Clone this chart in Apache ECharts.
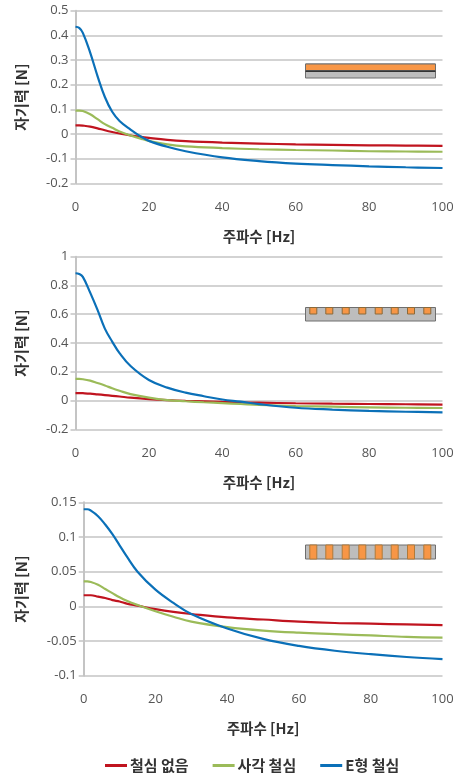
<!DOCTYPE html>
<html><head><meta charset="utf-8">
<script src="https://cdn.jsdelivr.net/npm/echarts@6/dist/echarts.min.js"></script>
<style>html,body{margin:0;padding:0;background:#fff}#c{width:460px;height:778px}</style>
</head><body><div id="c"></div>
<script>
const seriesNames = ['철심 없음','사각 철심','E형 철심'];
const xLabelTitle = '주파수 [Hz]';
const yLabelTitle = '자기력 [N]';

const freqA = [0,1,2,4,6,8,10,12,15,18,20,25,30,40,50,60,70,80,90,100];
const redA   = [.035,.035,.034,.03,.023,.015,.008,.002,-.006,-.012,-.016,-.024,-.029,-.035,-.039,-.042,-.044,-.046,-.047,-.048];
const greenA = [.095,.095,.093,.08,.06,.04,.025,.01,-.006,-.02,-.028,-.042,-.05,-.057,-.062,-.065,-.067,-.07,-.071,-.072];
const blueA  = [.435,.43,.41,.33,.235,.15,.09,.053,.018,-.012,-.028,-.052,-.07,-.095,-.11,-.12,-.126,-.131,-.135,-.138];

const freqB = [0,1,2,4,6,8,10,12,15,20,25,30,35,40,45,50,60,70,80,90,100];
const redB   = [.052,.052,.051,.048,.043,.038,.033,.028,.02,.01,.003,-.002,-.006,-.01,-.013,-.015,-.019,-.022,-.024,-.026,-.028];
const greenB = [.15,.15,.148,.138,.122,.105,.085,.068,.045,.02,.003,-.005,-.012,-.018,-.024,-.03,-.038,-.043,-.047,-.05,-.052];
const blueB  = [.885,.88,.86,.75,.63,.5,.41,.33,.24,.143,.09,.055,.03,.007,-.008,-.025,-.05,-.063,-.072,-.078,-.082];

const freqC = [0,1,2,4,6,8,10,12,15,20,25,30,40,50,60,70,80,90,100];
const redC   = [.016,.016,.016,.014,.012,.009,.007,.004,.001,-.004,-.008,-.011,-.016,-.019,-.022,-.024,-.025,-.026,-.027];
const greenC = [.036,.036,.035,.031,.025,.019,.013,.008,.002,-.007,-.015,-.022,-.03,-.035,-.038,-.04,-.042,-.044,-.045];
const blueC  = [.14,.14,.138,.13,.118,.104,.088,.072,.05,.024,.005,-.011,-.032,-.047,-.057,-.064,-.069,-.073,-.076];

const yTicksA = {min:-0.2,max:0.5,interval:0.1};
const yTicksB = {min:-0.2,max:1,interval:0.2};
const yTicksC = {min:-0.1,max:0.15,interval:0.05};

const colors = ['#c0141f','#9bbb59','#0b70b8'];
const grids = [
 {left:75.5,width:367,top:10.7,height:172.6},
 {left:75.5,width:367,top:256.7,height:172.6},
 {left:83.7,width:358.8,top:502.3,height:173.4}
];
const titleFont = {fontFamily:'"Noto Sans CJK KR"',fontWeight:'bold',fontSize:14.5,color:'#333'};
const xAxes = grids.map((g,i)=>({
  type:'value',gridIndex:i,min:0,max:100,interval:20,
  axisLine:{show:false},axisTick:{show:false},splitLine:{show:false},
  axisLabel:{margin:17,fontFamily:'"Open Sans"',fontSize:13,color:'#555',hideOverlap:false,showMinLabel:true,showMaxLabel:true},
  name:xLabelTitle,nameLocation:'middle',nameGap:i===1?46:45.5,nameTextStyle:titleFont
}));
const yAxes = [yTicksA,yTicksB,yTicksC].map((t,i)=>({
  type:'value',gridIndex:i,min:t.min,max:t.max,interval:t.interval,
  axisLine:{show:true,onZero:false,lineStyle:{color:'#c4c4c4',width:2}},
  axisTick:{show:true,length:5,lineStyle:{color:'#c4c4c4',width:1.5}},
  splitLine:{show:true,lineStyle:{color:'#c4c4c4',width:1.5}},
  axisLabel:{margin:7,fontFamily:'"Open Sans"',fontSize:13,color:'#555',formatter:v=>String(+v.toFixed(2))},
  name:yLabelTitle,nameLocation:'middle',nameGap:i===2?55:47,nameRotate:90,
  nameTextStyle:Object.assign({},titleFont,{fontSize:15})
}));
function mk(name,i,x,y,c){
  return {name,type:'line',xAxisIndex:i,yAxisIndex:i,data:x.map((f,k)=>[f,y[k]]),
    smooth:0.4,showSymbol:false,symbol:'none',lineStyle:{color:c,width:2.2},itemStyle:{color:c},z:3};
}
const series = [
  mk(seriesNames[0],0,freqA,redA,colors[0]),mk(seriesNames[1],0,freqA,greenA,colors[1]),mk(seriesNames[2],0,freqA,blueA,colors[2]),
  mk(seriesNames[0],1,freqB,redB,colors[0]),mk(seriesNames[1],1,freqB,greenB,colors[1]),mk(seriesNames[2],1,freqB,blueB,colors[2]),
  mk(seriesNames[0],2,freqC,redC,colors[0]),mk(seriesNames[1],2,freqC,greenC,colors[1]),mk(seriesNames[2],2,freqC,blueC,colors[2])
];
// Decorative cross-section insets (illustrations, not data)
const orange='#f79646', grey='#bdbdbd', edge='#6e6e6e';
const slots=[313.3,329.3,345.7,362.3,378.7,394.7,411,427.3];
const rect=(x,y,w,h,fill,stroke)=>({type:'rect',shape:{x,y,width:w,height:h},style:{fill,stroke:stroke||null,lineWidth:stroke?1:0},z:10});
const graphic=[
  rect(305.5,64,130,14,grey,edge),
  rect(305.5,64,130,6.5,orange,edge),
  rect(305.5,70.5,130,1.5,'#333'),
  rect(305.5,307.5,130,13.5,grey,edge),
  ...slots.map(x=>rect(x-3.5,307.5,7,6.5,orange,'#8a6a3a')),
  rect(305.5,545,130,14,grey,edge),
  ...slots.map(x=>rect(x-3.5,545,7,14,orange,'#b07a3a'))
];
const chart=echarts.init(document.getElementById('c'),null,{renderer:'canvas'});
chart.setOption({
  animation:false,backgroundColor:'#fff',grid:grids,xAxis:xAxes,yAxis:yAxes,series,graphic,
  legend:{data:seriesNames,left:100,top:753,itemWidth:22,itemHeight:3,itemGap:24,icon:'rect',
    textStyle:{fontFamily:'"Noto Sans CJK KR"',fontWeight:'bold',fontSize:15,color:'#333',padding:[0,0,0,-2]}}
});
</script></body></html>
